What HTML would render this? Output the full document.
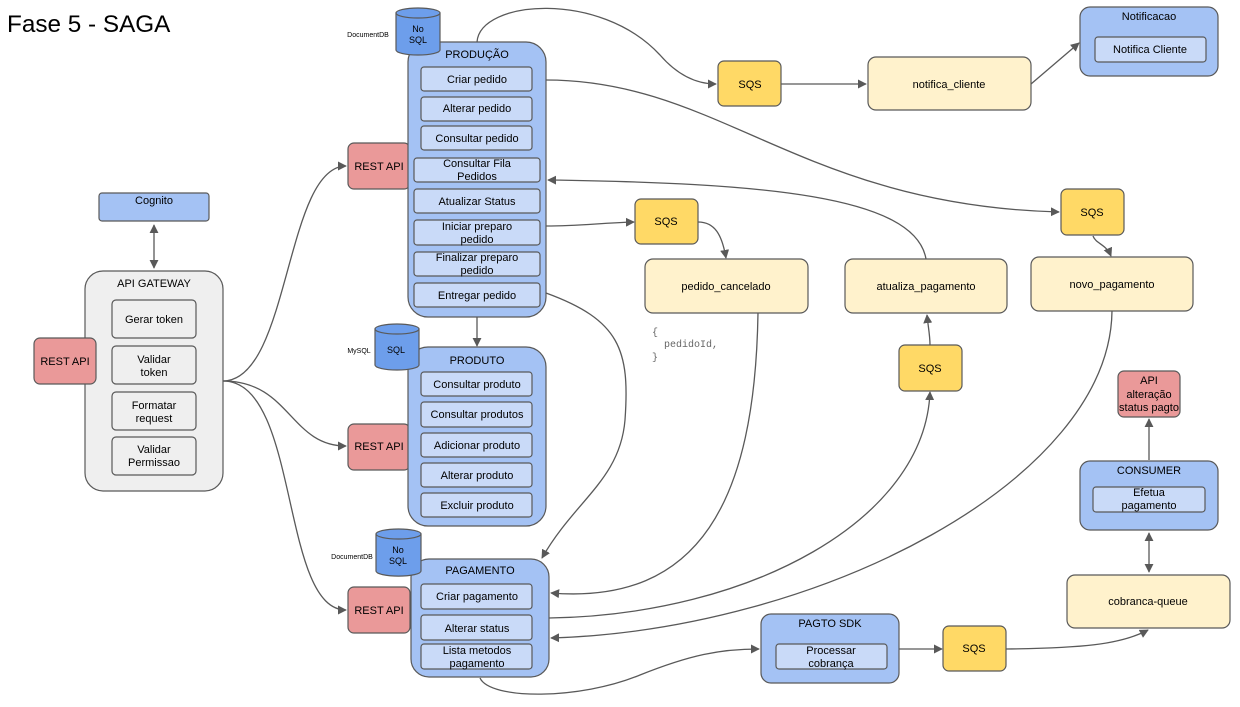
<!DOCTYPE html>
<html><head><meta charset="utf-8"><style>
body{margin:0;background:#fff;}
svg text{font-family:"Liberation Sans",Arial,sans-serif;fill:#000;}
</style></head><body>
<svg width="1240" height="702" viewBox="0 0 1240 702" xmlns="http://www.w3.org/2000/svg">
<defs>
<marker id="a" viewBox="0 0 10 10" refX="9" refY="5" markerWidth="9" markerHeight="9" orient="auto-start-reverse" markerUnits="userSpaceOnUse"><path d="M0,0 L10,5 L0,10 z" fill="#595959"/></marker>
</defs>
<text x="7" y="32" font-size="24.3">Fase 5 - SAGA</text>

<g fill="none" stroke="#595959" stroke-width="1.3">
<path d="M223,381 C290,381 285,166 346,166" marker-end="url(#a)"/>
<path d="M223,381 C290,381 290,446 346,446" marker-end="url(#a)"/>
<path d="M223,381 C300,381 280,610 346,610" marker-end="url(#a)"/>
<path d="M154,225 L154,268" marker-start="url(#a)" marker-end="url(#a)"/>
<path d="M477,42 C480,0 600,-10 660,55 C680,78 700,84 716,84" marker-end="url(#a)"/>
<path d="M781,84 L866,84" marker-end="url(#a)"/>
<path d="M1031,84 L1079,43" marker-end="url(#a)"/>
<path d="M546,80 C720,80 800,205 1059,212" marker-end="url(#a)"/>
<path d="M1093,236 C1096,244 1106,244 1111,256" marker-end="url(#a)"/>
<path d="M926,259 C915,195 760,183 548,180" marker-end="url(#a)"/>
<path d="M546,226 C580,226 600,223 634,222" marker-end="url(#a)"/>
<path d="M698,222 C715,222 722,235 726,258" marker-end="url(#a)"/>
<path d="M477,317 L477,346" marker-end="url(#a)"/>
<path d="M546,293 C620,320 630,350 625,420 C620,480 575,500 542,558" marker-end="url(#a)"/>
<path d="M758,313 C755,500 700,605 551,593" marker-end="url(#a)"/>
<path d="M549,618 C750,615 925,520 930,392" marker-end="url(#a)"/>
<path d="M930,345 C930,335 928,326 927,315" marker-end="url(#a)"/>
<path d="M1112,311 C1110,480 820,630 551,638" marker-end="url(#a)"/>
<path d="M480,678 C490,700 580,700 640,675 C690,655 720,649 759,649" marker-end="url(#a)"/>
<path d="M899,649 L942,649" marker-end="url(#a)"/>
<path d="M1006,649 C1080,648 1120,645 1148,630" marker-end="url(#a)"/>
<path d="M1149,533 L1149,572" marker-start="url(#a)" marker-end="url(#a)"/>
<path d="M1149,460 L1149,419" marker-end="url(#a)"/>
</g>

<g stroke="#595959" stroke-width="1.2" font-size="11" text-anchor="middle">
<rect x="99" y="193" width="110" height="28" rx="3" fill="#a4c2f4"/><text x="154" y="204" stroke="none">Cognito</text>
<rect x="85" y="271" width="138" height="220" rx="18" fill="#efefef"/><text x="154" y="287" stroke="none">API GATEWAY</text>
<rect x="112" y="300" width="84" height="38" rx="4" fill="#efefef"/><text x="154" y="323" stroke="none">Gerar token</text>
<rect x="112" y="346" width="84" height="38" rx="4" fill="#efefef"/><text x="154" y="363" stroke="none">Validar</text><text x="154" y="376" stroke="none">token</text>
<rect x="112" y="392" width="84" height="38" rx="4" fill="#efefef"/><text x="154" y="409" stroke="none">Formatar</text><text x="154" y="422" stroke="none">request</text>
<rect x="112" y="437" width="84" height="38" rx="4" fill="#efefef"/><text x="154" y="453" stroke="none">Validar</text><text x="154" y="466" stroke="none">Permissao</text>

<rect x="34" y="338" width="62" height="46" rx="6" fill="#ea9999"/><text x="65" y="365" stroke="none">REST API</text>
<rect x="348" y="143" width="62" height="46" rx="6" fill="#ea9999"/><text x="379" y="170" stroke="none">REST API</text>
<rect x="348" y="424" width="62" height="46" rx="6" fill="#ea9999"/><text x="379" y="450" stroke="none">REST API</text>
<rect x="348" y="587" width="62" height="46" rx="6" fill="#ea9999"/><text x="379" y="614" stroke="none">REST API</text>

<rect x="408" y="42" width="138" height="275" rx="20" fill="#a4c2f4"/><text x="477" y="58" stroke="none">PRODUÇÃO</text>
<g fill="#c9daf8">
<rect x="421" y="67" width="111" height="24" rx="3"/><rect x="421" y="97" width="111" height="24" rx="3"/><rect x="421" y="126" width="111" height="24" rx="3"/>
<rect x="414" y="158" width="126" height="24" rx="3"/><rect x="414" y="189" width="126" height="24" rx="3"/><rect x="414" y="220" width="126" height="25" rx="3"/><rect x="414" y="252" width="126" height="24" rx="3"/><rect x="414" y="283" width="126" height="24" rx="3"/>
</g>
<g stroke="none">
<text x="477" y="83">Criar pedido</text><text x="477" y="112">Alterar pedido</text><text x="477" y="142">Consultar pedido</text>
<text x="477" y="167">Consultar Fila</text><text x="477" y="180">Pedidos</text>
<text x="477" y="205">Atualizar Status</text>
<text x="477" y="230">Iniciar preparo</text><text x="477" y="243">pedido</text>
<text x="477" y="261">Finalizar preparo</text><text x="477" y="274">pedido</text>
<text x="477" y="299">Entregar pedido</text>
</g>

<rect x="408" y="347" width="138" height="179" rx="20" fill="#a4c2f4"/><text x="477" y="364" stroke="none">PRODUTO</text>
<g fill="#c9daf8">
<rect x="421" y="372" width="111" height="24" rx="3"/><rect x="421" y="402" width="111" height="25" rx="3"/><rect x="421" y="433" width="111" height="24" rx="3"/><rect x="421" y="463" width="111" height="24" rx="3"/><rect x="421" y="493" width="111" height="24" rx="3"/>
</g>
<g stroke="none">
<text x="477" y="388">Consultar produto</text><text x="477" y="418">Consultar produtos</text><text x="477" y="449">Adicionar produto</text><text x="477" y="479">Alterar produto</text><text x="477" y="509">Excluir produto</text>
</g>

<rect x="411" y="559" width="138" height="118" rx="18" fill="#a4c2f4"/><text x="480" y="574" stroke="none">PAGAMENTO</text>
<g fill="#c9daf8">
<rect x="421" y="584" width="111" height="25" rx="3"/><rect x="421" y="615" width="111" height="25" rx="3"/><rect x="421" y="644" width="111" height="25" rx="3"/>
</g>
<g stroke="none">
<text x="477" y="600">Criar pagamento</text><text x="477" y="632">Alterar status</text><text x="477" y="654">Lista metodos</text><text x="477" y="667">pagamento</text>
</g>

<g fill="#6d9eeb">
<path d="M396,13 L396,50 A22,5 0 0 0 440,50 L440,13"/><ellipse cx="418" cy="13" rx="22" ry="5"/>
<path d="M375,329 L375,365 A22,5 0 0 0 419,365 L419,329"/><ellipse cx="397" cy="329" rx="22" ry="5"/>
<path d="M376,534 L376,571 A22,5 0 0 0 421,571 L421,534"/><ellipse cx="398.5" cy="534" rx="22.5" ry="5"/>
</g>
<g stroke="none" font-size="9">
<text x="418" y="32">No</text><text x="418" y="43">SQL</text>
<text x="396" y="353">SQL</text>
<text x="398" y="553">No</text><text x="398" y="564">SQL</text>
</g>
<g stroke="none" font-size="7">
<text x="368" y="37">DocumentDB</text><text x="359" y="353">MySQL</text><text x="352" y="559">DocumentDB</text>
</g>

<g fill="#ffd966">
<rect x="718" y="61" width="63" height="45" rx="6"/><rect x="635" y="199" width="63" height="45" rx="6"/><rect x="1061" y="189" width="63" height="46" rx="6"/><rect x="899" y="345" width="63" height="46" rx="6"/><rect x="943" y="626" width="63" height="45" rx="6"/>
</g>
<g stroke="none">
<text x="750" y="88">SQS</text><text x="666" y="225">SQS</text><text x="1092" y="216">SQS</text><text x="930" y="372">SQS</text><text x="974" y="652">SQS</text>
</g>

<g fill="#fff2cc">
<rect x="868" y="57" width="163" height="53" rx="8"/><rect x="645" y="259" width="163" height="54" rx="8"/><rect x="845" y="259" width="162" height="54" rx="8"/><rect x="1031" y="257" width="162" height="54" rx="8"/><rect x="1067" y="575" width="163" height="53" rx="8"/>
</g>
<g stroke="none">
<text x="949" y="88">notifica_cliente</text><text x="726" y="290">pedido_cancelado</text><text x="926" y="290">atualiza_pagamento</text><text x="1112" y="288">novo_pagamento</text><text x="1148" y="605">cobranca-queue</text>
</g>

<rect x="1080" y="7" width="138" height="69" rx="10" fill="#a4c2f4"/><text x="1149" y="20" stroke="none">Notificacao</text>
<rect x="1095" y="37" width="111" height="25" rx="3" fill="#c9daf8"/><text x="1150" y="53" stroke="none">Notifica Cliente</text>

<rect x="1118" y="371" width="62" height="46" rx="6" fill="#ea9999"/>
<g stroke="none"><text x="1149" y="384">API</text><text x="1149" y="398">alteração</text><text x="1149" y="411">status pagto</text></g>

<rect x="1080" y="461" width="138" height="69" rx="10" fill="#a4c2f4"/><text x="1149" y="474" stroke="none">CONSUMER</text>
<rect x="1093" y="487" width="112" height="25" rx="3" fill="#c9daf8"/><text x="1149" y="496" stroke="none">Efetua</text><text x="1149" y="509" stroke="none">pagamento</text>

<rect x="761" y="614" width="138" height="69" rx="10" fill="#a4c2f4"/><text x="830" y="627" stroke="none">PAGTO SDK</text>
<rect x="776" y="644" width="111" height="25" rx="3" fill="#c9daf8"/><text x="831" y="654" stroke="none">Processar</text><text x="831" y="667" stroke="none">cobrança</text>
</g>

<g font-size="10">
<text x="652" y="335" style="font-family:'Liberation Mono',monospace;fill:#666">{</text>
<text x="664" y="347" style="font-family:'Liberation Mono',monospace;fill:#666">pedidoId,</text>
<text x="652" y="360" style="font-family:'Liberation Mono',monospace;fill:#666">}</text>
</g>
</svg>
</body></html>
